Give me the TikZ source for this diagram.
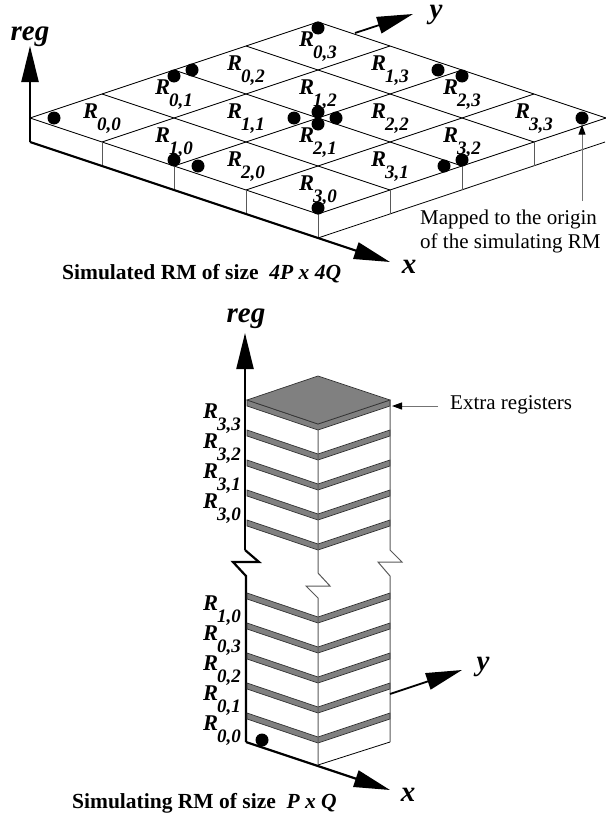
\documentclass[tikz,border=0pt]{standalone}
\usepackage{fontspec}
\setmainfont{Liberation Serif}
\usetikzlibrary{arrows.meta}
\tikzset{
    axisline/.style={line width=2.2pt, -{Triangle[length=36pt, width=17pt]}},
    gridline/.style={line width=0.8pt},
    postline/.style={line width=1pt, black!65},
    noteline/.style={line width=1pt, black!55, -{Triangle[length=10pt, width=7pt, color=black]}},
    band/.style={fill=gray, draw=black!80, line width=0.7pt},
    regdot/.style={circle, fill=black, inner sep=0pt, minimum size=13pt},
    reglabel/.style={inner sep=0pt, anchor=base west, font=\bfseries\itshape\fontsize{22.5}{22.5}\selectfont},
    axislabel/.style={inner sep=0pt, anchor=base, font=\bfseries\itshape\fontsize{29}{29}\selectfont},
    notelabel/.style={inner sep=0pt, font=\fontsize{21}{24}\selectfont, align=left},
    captionlabel/.style={inner sep=0pt, anchor=base west, font=\bfseries\fontsize{21.5}{21.5}\selectfont}
}
\newcommand{\regname}[2]{R\kern-1pt\raisebox{-12.5pt}{\fontsize{19}{19}\selectfont #1,#2}}
\begin{document}
\begin{tikzpicture}[x=1pt, y=-1pt]
    \useasboundingbox (0,0) rectangle (605,819);

    % simulated mesh
    \coordinate (left) at (30,118);
    \coordinate (top) at (318,22);
    \coordinate (right) at (605,118);
    \coordinate (front) at (318,214);
    \coordinate (base) at (30,142);
    \coordinate (basefront) at (318,238);
    \coordinate (baseright) at (605,142);

    \foreach \k in {0,...,4} {
        \draw[gridline] (30+72*\k,118+24*\k) -- (318+72*\k,22+24*\k);
        \draw[gridline] (30+72*\k,118-24*\k) -- (318+72*\k,214-24*\k);
    }
    \draw[gridline] (left) -- (base);
    \draw[gridline] (basefront) -- (baseright);
    \foreach \k in {1,2,3,4} {
        \draw[postline] (30+72*\k,118+24*\k) -- (30+72*\k,142+24*\k);
    }
    \foreach \k in {1,2,3} {
        \draw[postline] (318+72*\k,214-24*\k) -- (318+72*\k,238-24*\k);
    }

    \foreach \i in {0,...,3} {
        \foreach \j in {0,...,3} {
            \node[reglabel] (r\i\j) at ({83+72*(\i+\j)},{118+24*(\i-\j)}) {\regname{\i}{\j}};
        }
    }

    \foreach \px/\py [count=\n] in {54/118, 174/76, 192/70, 174/160, 198/166, 318/28, 294/118, 318/112,
        318/124, 336/118, 438/70, 462/76, 462/160, 444/166, 318/208, 582/118} {
        \node[regdot] (dot\n) at (\px,\py) {};
    }

    \draw[axisline] (base) -- (left) -- (30,46) coordinate (regtip);
    \draw[axisline] (base) -- (390,262) coordinate (xtip);
    \coordinate (ystart) at (355,33);
    \draw[axisline, line width=1.8pt] (ystart) -- (413,14);

    \node[axislabel] (regtop) at (30,40) {reg};
    \node[axislabel] (ytop) at (436,18) {y};
    \node[axislabel] (xtop) at (409,273) {x};

    \coordinate (notestart) at (582,201);
    \draw[noteline] (notestart) -- (dot16);
    \node[notelabel, anchor=west] (note) at (420,231) {Mapped to the origin\\of the simulating RM};
    \node[captionlabel] (captop) at (62,279) {Simulated RM of size~~\textit{4P x 4Q}};

    % simulating mesh
    \draw[line width=2.2pt] (245,550) -- (259,562) -- (233,562) -- (246,576) -- (246,742) coordinate (lowbase);
    \draw[axisline] (245,550) -- (245,333) coordinate (lowregtip);

    \foreach \y in {400,430,460,490,520,593,623,653,683,713} {
        \draw[band] (247,\y) -- (318,\y+24) -- (390,\y) -- (390,\y+6) -- (318,\y+30) -- (247,\y+6) -- cycle;
    }
    \draw[band] (247,400) -- (318,376) -- (390,400) -- (318,424) -- cycle;

    \draw[postline] (390,400) -- (390,550) -- (402,562) -- (378,562) -- (390,576) -- (390,742);
    \draw[postline] (318,430) -- (318,573) -- (330,586) -- (306,586) -- (318,598) -- (318,765);
    \draw[gridline] (318,765) -- (390,742);

    \foreach \lab/\i/\j/\py in {a/3/3/418, b/3/2/448, c/3/1/478, d/3/0/508, e/1/0/610, f/0/3/640, g/0/2/670, h/0/1/700, k/0/0/730} {
        \node[reglabel] (low\lab) at (203,\py) {\regname{\i}{\j}};
    }

    \node[regdot] (lowdot) at (262,740) {};
    \draw[axisline] (lowbase) -- (390,790);
    \draw[axisline, line width=1.8pt] (390,694) -- (462,670);

    \coordinate (extrastart) at (438,406);
    \draw[noteline] (extrastart) -- (392,406);
    \node[notelabel, anchor=west] (extra) at (450,405) {Extra registers};

    \node[axislabel] (lowreg) at (246,322) {reg};
    \node[axislabel] (lowy) at (483,670) {y};
    \node[axislabel] (lowx) at (408,801) {x};
    \node[captionlabel] (caplow) at (72,808) {Simulating RM of size~~\textit{P x Q}};
\end{tikzpicture}
\end{document}
